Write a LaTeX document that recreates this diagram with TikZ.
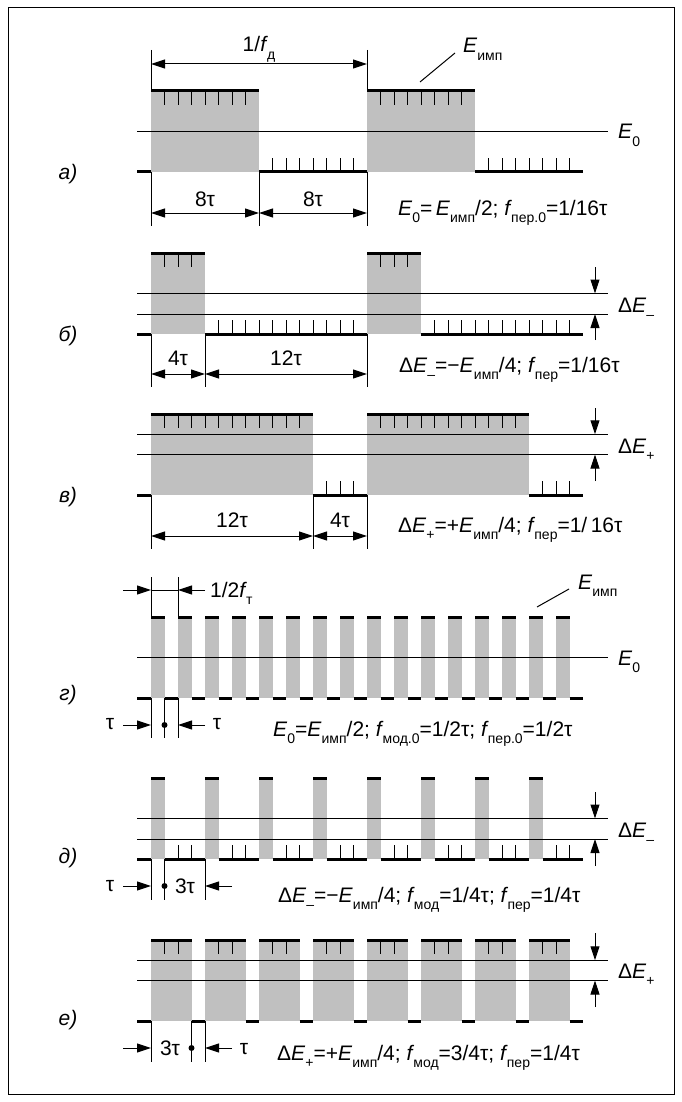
\documentclass[tikz,border=0pt]{standalone}
\usepackage{fontspec}
\setmainfont{Liberation Sans}
\usetikzlibrary{arrows.meta}
\definecolor{pulsegray}{RGB}{192,192,192}
\newcommand\lo[1]{\raisebox{-0.36em}{\fontsize{14}{14}\selectfont #1}}
\newcommand\Ei{\textit{E}}
\newcommand\ff{\textit{f\kern1pt}}
% pulse train: top y, width and period (in tau), number of periods
\newcommand\pulsetrain[4]{%
  \pgfmathsetmacro\btm{#1+81}
  \pgfmathtruncatemacro\nhi{#2-1}
  \pgfmathtruncatemacro\nlo{#3-#2-1}
  \foreach \k in {1,...,#4}{
    \pgfmathsetmacro\xa{151+(\k-1)*#3*13.5}
    \pgfmathsetmacro\xb{\xa+#2*13.5}
    \pgfmathsetmacro\xc{\xa+#3*13.5}
    \fill[pulsegray] (\xa,#1) rectangle (\xb,\btm);
    \draw[level] (\xa,#1) -- (\xb,#1);
    \draw[level] (\xb,\btm) -- (\xc,\btm);
    \ifnum\nhi>0 \foreach \j in {1,...,\nhi} \draw[refline] (\xa+\j*13.5,#1) -- ++(0,14); \fi
    \ifnum\nlo>0 \foreach \j in {1,...,\nlo} \draw[refline] (\xb+\j*13.5,\btm) -- ++(0,-14); \fi
  }
  \draw[level] (137,\btm) -- (151,\btm);
}
\begin{document}
\begin{tikzpicture}[x=1pt,y=-1pt,
  every node/.style={inner sep=0pt,font=\fontsize{21}{24}\selectfont},
  level/.style={line width=3pt},
  refline/.style={line width=1pt},
  dimboth/.style={line width=1pt,{Triangle[length=14pt,width=9pt]}-{Triangle[length=14pt,width=9pt]}},
  dimto/.style={line width=1pt,-{Triangle[length=14pt,width=9pt]}},
  panel/.style={font=\fontsize{21}{24}\selectfont\itshape}]
\useasboundingbox (0,0) rectangle (682,1102);
\draw[refline] (8,8) rectangle (674,1094);

% a)
\pulsetrain{91}{8}{16}{2}
\draw[refline] (137,131.5) -- (608,131.5);
\node[panel,anchor=base] (pa) at (68,179) {а)};
\node[anchor=base west] (eA) at (618,139) {\Ei\lo{0}};
\draw[refline] (151,50) -- (151,91) (367,50) -- (367,91);
\draw[dimboth] (151,64) -- (367,64);
\node[anchor=base] (fd) at (259,52) {1/\ff\lo{д}};
\draw[refline] (151,172) -- (151,226) (259,172) -- (259,226) (367,172) -- (367,226);
\draw[dimboth] (151,213) -- (259,213);
\draw[dimboth] (259,213) -- (367,213);
\node[anchor=base] (wA1) at (205,207) {8τ};
\node[anchor=base] (wA2) at (313,207) {8τ};
\node[anchor=base west] (eimpA) at (463,53) {\Ei\lo{имп}};
\coordinate (leadA) at (420,82);
\draw[refline] (leadA) -- ([xshift=-8pt]eimpA.base west);
\node[anchor=base west] (fmA) at (398,215) {\Ei\lo{0}=\,\Ei\lo{имп}/2; \ff\lo{пер.0}=1/16τ};

% b)
\pulsetrain{253}{4}{16}{2}
\draw[refline] (137,293.5) -- (608,293.5) (137,314) -- (608,314);
\node[panel,anchor=base] (pb) at (68,341) {б)};
\draw[dimto] (595,267) -- (595,293.5);
\draw[dimto] (595,340) -- (595,314);
\node[anchor=base west] (dB) at (618,312) {Δ\Ei\lo{–}};
\draw[refline] (151,334) -- (151,387) (205,334) -- (205,387) (367,334) -- (367,387);
\draw[dimboth] (151,374) -- (205,374);
\draw[dimboth] (205,374) -- (367,374);
\node[anchor=base] (wB1) at (178,365) {4τ};
\node[anchor=base] (wB2) at (286,365) {12τ};
\node[anchor=base west] (fmB) at (399,372) {Δ\Ei\lo{–}=−\Ei\lo{имп}/4; \ff\lo{пер}=1/16τ};

% v)
\pulsetrain{414}{12}{16}{2}
\draw[refline] (137,434.25) -- (608,434.25) (137,454.5) -- (608,454.5);
\node[panel,anchor=base] (pv) at (68,502) {в)};
\draw[dimto] (595,408) -- (595,434.25);
\draw[dimto] (595,481) -- (595,454.5);
\node[anchor=base west] (dV) at (618,453) {Δ\Ei\lo{+}};
\draw[refline] (151,495) -- (151,549) (313,495) -- (313,549) (367,495) -- (367,549);
\draw[dimboth] (151,536) -- (313,536);
\draw[dimboth] (313,536) -- (367,536);
\node[anchor=base] (wV1) at (232,527) {12τ};
\node[anchor=base] (wV2) at (340,527) {4τ};
\node[anchor=base west] (fmV) at (398,532) {Δ\Ei\lo{+}=+\Ei\lo{имп}/4; \ff\lo{пер}=1/\,16τ};

% g)
\pulsetrain{617}{1}{2}{16}
\draw[refline] (137,657.5) -- (608,657.5);
\node[panel,anchor=base] (pg) at (68,700) {г)};
\node[anchor=base west] (eG) at (618,665) {\Ei\lo{0}};
\draw[refline] (151,577) -- (151,617) (178,577) -- (178,617);
\draw[dimto] (123,590) -- (151,590);
\draw[dimto] (205,590) -- (178,590);
\draw[refline] (151,590) -- (178,590);
\node[anchor=base west] (ftG) at (210,597) {1/2\ff\lo{т}};
\node[anchor=base west] (eimpG) at (578,589) {\Ei\lo{имп}};
\coordinate (leadG) at (537,607);
\draw[refline] (leadG) -- ([xshift=-9pt]eimpG.base west);
\draw[refline] (151,698) -- (151,738) (164.5,698) -- (164.5,738) (178,698) -- (178,738);
\draw[dimto] (123,725) -- (151,725);
\draw[dimto] (205,725) -- (178,725);
\fill (164.5,725) circle (3pt);
\node[anchor=base] (tG1) at (110,729) {τ};
\node[anchor=base] (tG2) at (217,729) {τ};
\node[anchor=base west] (fmG) at (273,736) {\Ei\lo{0}=\Ei\lo{имп}/2; \ff\lo{мод.0}=1/2τ; \ff\lo{пер.0}=1/2τ};

% d)
\pulsetrain{778}{1}{4}{8}
\draw[refline] (137,818.5) -- (608,818.5) (137,839) -- (608,839);
\node[panel,anchor=base] (pd) at (68,863) {д)};
\draw[dimto] (595,792) -- (595,818.5);
\draw[dimto] (595,866) -- (595,839);
\node[anchor=base west] (dD) at (618,837) {Δ\Ei\lo{–}};
\draw[refline] (151,859) -- (151,900) (164.5,859) -- (164.5,900) (205,859) -- (205,900);
\draw[dimto] (123,886) -- (151,886);
\draw[dimto] (232,886) -- (205,886);
\fill (164.5,886) circle (3pt);
\node[anchor=base] (tD1) at (110,891) {τ};
\node[anchor=base] (tD2) at (185,893) {3τ};
\node[anchor=base west] (fmD) at (278,902) {Δ\Ei\lo{–}=−\Ei\lo{имп}/4; \ff\lo{мод}=1/4τ; \ff\lo{пер}=1/4τ};

% e)
\pulsetrain{940}{3}{4}{8}
\draw[refline] (137,960.25) -- (608,960.25) (137,980.5) -- (608,980.5);
\node[panel,anchor=base] (pe) at (68,1025) {е)};
\draw[dimto] (595,933) -- (595,960.25);
\draw[dimto] (595,1007) -- (595,980.5);
\node[anchor=base west] (dE) at (618,978) {Δ\Ei\lo{+}};
\draw[refline] (151,1021) -- (151,1062) (191.5,1021) -- (191.5,1062) (205,1021) -- (205,1062);
\draw[dimto] (123,1048) -- (151,1048);
\draw[dimto] (232,1048) -- (205,1048);
\fill (191.5,1048) circle (3pt);
\node[anchor=base] (tE1) at (170,1055) {3τ};
\node[anchor=base] (tE2) at (244,1054) {τ};
\node[anchor=base west] (fmE) at (277,1060) {Δ\Ei\lo{+}=+\Ei\lo{имп}/4; \ff\lo{мод}=3/4τ; \ff\lo{пер}=1/4τ};
\end{tikzpicture}
\end{document}
